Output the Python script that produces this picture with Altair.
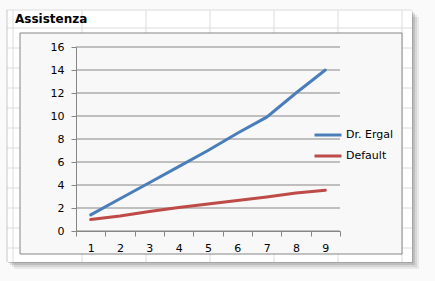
import altair as alt
import pandas as pd

# ---------------- data ----------------
categories = [1, 2, 3, 4, 5, 6, 7, 8, 9]
dr_ergal = [1.4, 2.8, 4.2, 5.6, 7.0, 8.5, 9.9, 12.0, 14.0]
default = [1.0, 1.3, 1.7, 2.05, 2.35, 2.65, 2.95, 3.3, 3.55]
series_names = ["Dr. Ergal", "Default"]
series_colors = ["#4a7ebb", "#be4b48"]
y_ticks = [0, 2, 4, 6, 8, 10, 12, 14, 16]
sheet_title = ["Assistenza"]

# ---------------- layout ----------------
OX, OY = 76, 47          # plot origin in the window
W, H = 264, 184          # plot area
FONT = "DejaVu Sans"
AX = "#868686"


def px(x):
    return x - OX


def py(y):
    return y - OY


one = pd.DataFrame({"a": [0]})


def rect(x1, y1, x2, y2, fill, opacity=1.0, stroke=None):
    kw = dict(fill=fill, opacity=opacity)
    if stroke:
        kw.update(stroke=stroke, strokeWidth=1)
    return alt.Chart(one).mark_rect(**kw).encode(
        x=alt.value(px(x1)), x2=alt.value(px(x2)),
        y=alt.value(py(y1)), y2=alt.value(py(y2)))


def rule(x1, y1, x2, y2, color, width=1):
    return alt.Chart(one).mark_rule(color=color, strokeWidth=width).encode(
        x=alt.value(px(x1)), x2=alt.value(px(x2)),
        y=alt.value(py(y1)), y2=alt.value(py(y2)))


layers = []
# shadow of torn sheet
for off, op in [(7, 0.10), (5, 0.12), (3, 0.18), (1, 0.25)]:
    layers.append(rect(7 + off, 10 + off, 412 + off, 262 + off, "#555555", op))
# sheet
layers.append(rect(7, 10, 412, 262, "#ffffff"))
# sheet grid
for gx in [13, 82, 146, 210, 274, 338, 402]:
    layers.append(rule(gx, 10, gx, 262, "#dcdcdc"))
for gy in [10, 28] + list(range(48, 262, 20)):
    layers.append(rule(7, gy, 412, gy, "#dcdcdc"))
layers.append(rule(7, 10, 7, 262, "#c8c8c8"))

# sheet title cell
title = alt.Chart(pd.DataFrame({"t": sheet_title})).mark_text(
    align="left", baseline="alphabetic", font=FONT, fontSize=12,
    fontWeight="bold", color="#000000").encode(
    x=alt.value(px(15)), y=alt.value(py(23)), text="t:N")
layers.append(title)

# chart box
layers.append(rect(20, 33, 402, 254, "#f8f8f8", 1.0, stroke=AX))

yscale = alt.Scale(domain=[0, 16], nice=False)
yaxis = alt.Axis(title=None, values=y_ticks, tickSize=5,
                 labelPadding=7, domainColor=AX, tickColor=AX,
                 labelFont=FONT, labelFontSize=11,
                 labelColor="#000000", grid=False, zindex=1)

grid = alt.Chart(pd.DataFrame({"value": y_ticks})).mark_rule(
    color=AX, strokeWidth=1).encode(
    y=alt.Y("value:Q", scale=yscale, axis=yaxis),
    x=alt.value(0), x2=alt.value(W))
layers.append(grid)

rows = []
for name, vals in zip(series_names, [dr_ergal, default]):
    for c, v in zip(categories, vals):
        rows.append({"cat": c, "value": v, "series": name})
df = pd.DataFrame(rows)

lines = alt.Chart(df).mark_line(strokeWidth=3, strokeCap="round").encode(
    x=alt.X("cat:O",
            scale=alt.Scale(type="band", paddingInner=0, paddingOuter=0),
            bandPosition=0.5,
            axis=alt.Axis(title=None, labelAngle=0, tickBand="extent",
                          tickSize=5, labelPadding=6, domainColor=AX,
                          tickColor=AX, labelFont=FONT, labelFontSize=11,
                          labelColor="#000000", grid=False, zindex=1)),
    y=alt.Y("value:Q", scale=yscale, axis=yaxis),
    color=alt.Color("series:N",
                    scale=alt.Scale(domain=series_names, range=series_colors),
                    legend=alt.Legend(title=None, orient="none",
                                      legendX=px(313), legendY=py(120),
                                      symbolType="stroke", symbolSize=729,
                                      symbolStrokeWidth=3, labelFont=FONT,
                                      labelFontSize=11, labelColor="#000000",
                                      labelOffset=3, rowPadding=-3)),
    order="cat:O",
)
layers.append(lines)

chart = alt.layer(*layers).properties(
    width=W, height=H,
    padding={"left": OX, "top": OY, "right": 435 - OX - W, "bottom": 281 - OY - H},
    autosize=alt.AutoSizeParams(type="none"),
    background="#fafafa",
).configure_view(stroke=None)

chart.save("out.html", embed_options={"renderer": "svg", "actions": False})
